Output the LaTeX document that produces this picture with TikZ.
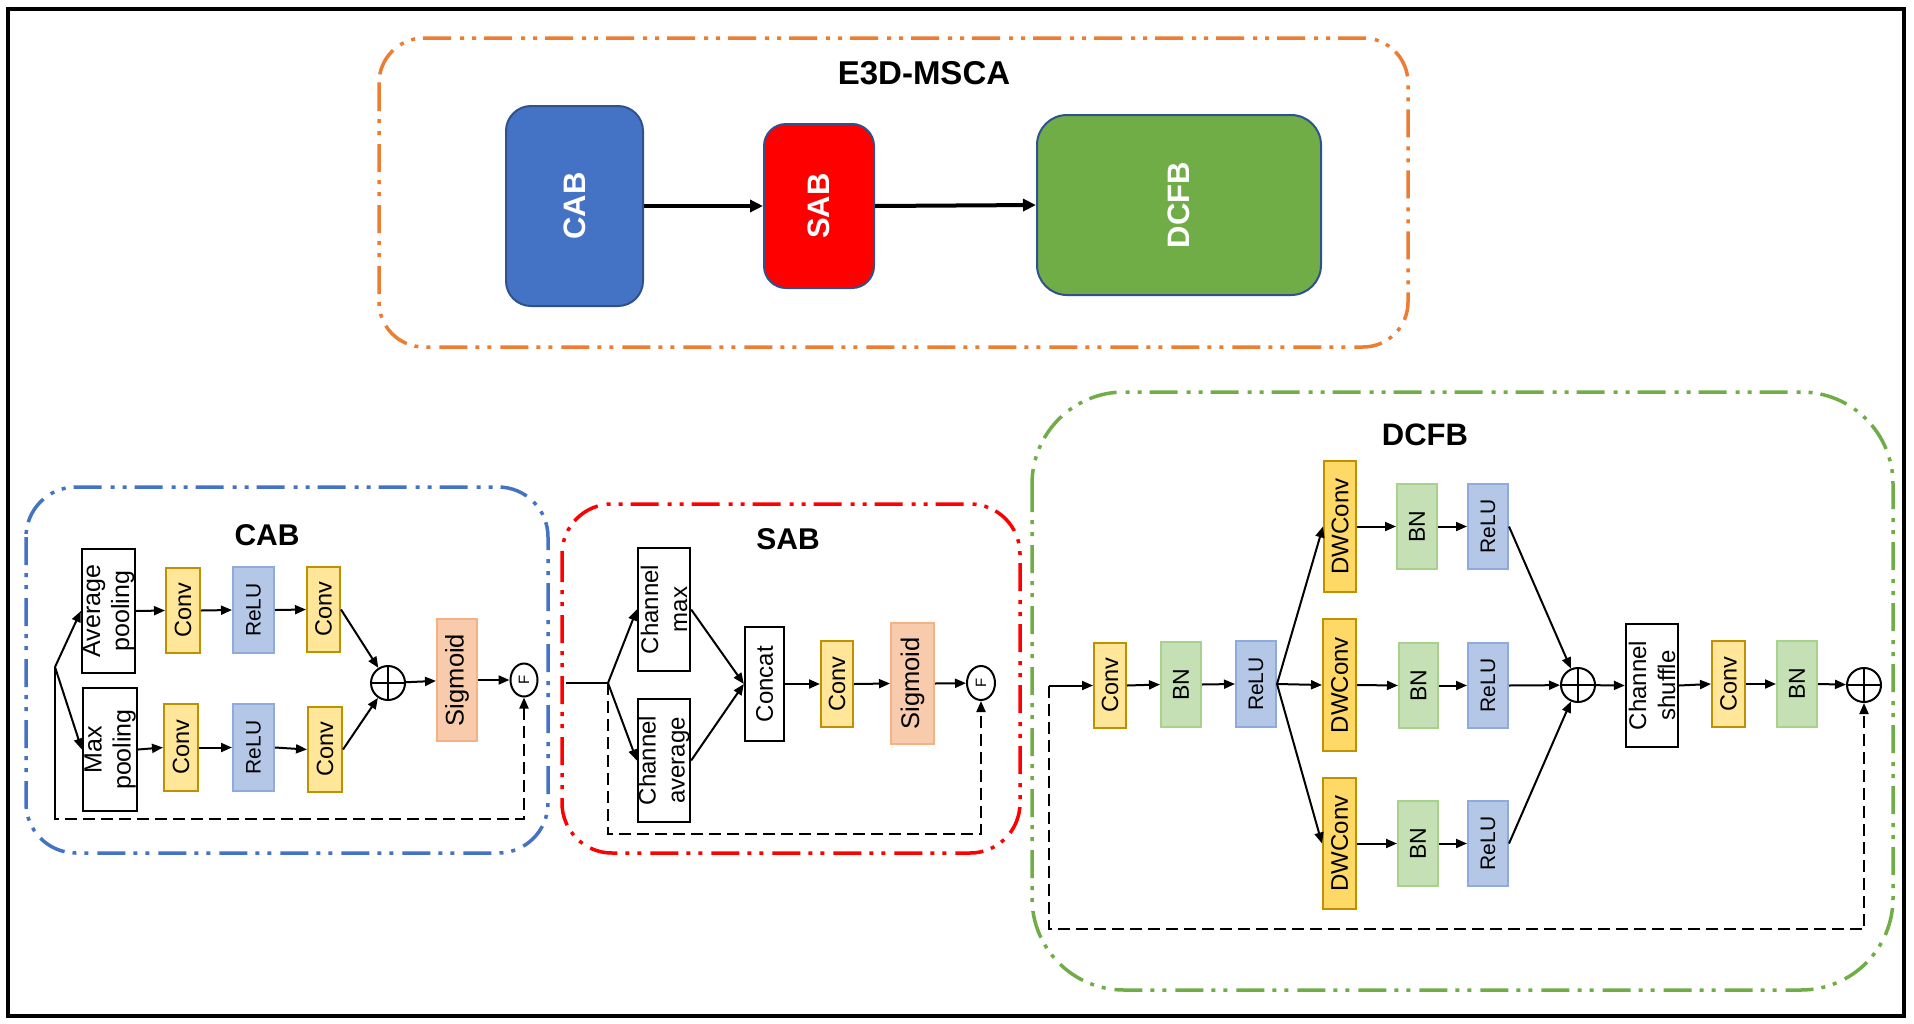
\documentclass[tikz,border=0pt]{standalone}
\usepackage{fontspec}
\setmainfont{Liberation Sans}
\usetikzlibrary{arrows.meta,shapes.geometric,calc}
\definecolor{cabblue}{HTML}{4472C4}
\definecolor{sabred}{HTML}{FF0000}
\definecolor{dcgreen}{HTML}{70AD47}
\definecolor{orng}{HTML}{ED7D31}
\definecolor{bdark}{HTML}{2F528F}
\definecolor{convf}{HTML}{FFE699}
\definecolor{convd}{HTML}{BF9000}
\definecolor{dwf}{HTML}{FFD966}
\definecolor{bnf}{HTML}{C5E0B4}
\definecolor{bnd}{HTML}{A9D18E}
\definecolor{reluf}{HTML}{B4C7E7}
\definecolor{relud}{HTML}{8FAADC}
\definecolor{sigf}{HTML}{F8CBAD}
\definecolor{sigd}{HTML}{F4B183}
\newcommand\myfs[1]{\fontsize{#1}{29}\selectfont}
\newcommand\blk[7]{%
  \node[#1, minimum width=#4, minimum height=#5] (#2) at (#3) {};
  \node[lbl, font=\myfs{#6}] (#2t) at (#2.center) {#7};}
\tikzset{
  grp/.style={line width=3.5pt, dash pattern=on 28pt off 8pt on 4pt off 8pt on 4pt off 9pt},
  arr/.style={line width=2pt, -{Triangle[length=11pt,width=9pt]}},
  bigarr/.style={line width=4pt, -{Triangle[length=13pt,width=12pt]}},
  dsh/.style={line width=2pt, dash pattern=on 12pt off 6pt},
  bx/.style={rectangle, draw, line width=2pt, inner sep=0pt},
  wbx/.style={bx, draw=black, line width=2.3pt, fill=white},
  conv/.style={bx, draw=convd, fill=convf},
  dw/.style={bx, draw=convd, fill=dwf},
  bn/.style={bx, draw=bnd, fill=bnf},
  relu/.style={bx, draw=relud, fill=reluf},
  sig/.style={bx, draw=sigd, fill=sigf},
  lbl/.style={rotate=90, inner sep=0pt, align=center},
  oplus/.style={circle, draw, line width=2pt, minimum size=34pt, inner sep=0pt,
    path picture={\draw[line width=2pt] (path picture bounding box.north) -- (path picture bounding box.south)
      (path picture bounding box.west) -- (path picture bounding box.east);}},
  fnode/.style={ellipse, draw, line width=2pt, minimum width=27pt, minimum height=33pt, inner sep=0pt, font=\myfs{15}},
  ttl/.style={font=\bfseries\myfs{30}, inner sep=0pt},
  big/.style={rectangle, draw=bdark, line width=2pt, inner sep=0pt},
  wlbl/.style={rotate=90, inner sep=0pt, text=white, font=\bfseries\myfs{31}}
}
\begin{document}
\begin{tikzpicture}[x=1pt,y=-1pt]
\useasboundingbox (0,0) rectangle (1914,1023);
\fill[white] (0,0) rectangle (1914,1023);
\draw[line width=4pt] (8,9) rectangle (1904,1016);

% ---------- top: E3D-MSCA ----------
\draw[grp, draw=orng, rounded corners=45pt] (379,38) rectangle (1408,347);
\node[ttl, font=\bfseries\myfs{33}] (ttop) at (924,73) {E3D-MSCA};
\node[big, fill=cabblue, minimum width=137pt, minimum height=200pt, rounded corners=25pt] (bcab) at (574.5,206) {};
\node[wlbl] (bcabt) at (bcab) {CAB};
\node[big, fill=sabred, minimum width=110pt, minimum height=164pt, rounded corners=22pt] (bsab) at (819,206) {};
\node[wlbl] (bsabt) at (bsab) {SAB};
\node[big, fill=dcgreen, minimum width=284pt, minimum height=180pt, rounded corners=30pt] (bdc) at (1179,205) {};
\node[wlbl] (bdct) at (bdc) {DCFB};
\draw[bigarr] (bcab.east) -- (bsab.west);
\draw[bigarr] (bsab.east) -- (bdc.west);

% ---------- CAB ----------
\draw[grp, draw=cabblue, rounded corners=50pt] (26,487) rectangle (548,853);
\node[ttl] (tcab) at (267,535) {CAB};
\blk{wbx}{avg}{108.5,611}{53pt}{124pt}{25}{Average\\pooling}
\blk{wbx}{mxp}{110,749.5}{54pt}{123pt}{25}{Max\\pooling}
\blk{conv}{ca1}{183,610.5}{34pt}{85pt}{23.5}{Conv}
\blk{relu}{ca2}{253.5,610}{41pt}{86pt}{21}{ReLU}
\blk{conv}{ca3}{323.5,609.5}{33pt}{85pt}{23.5}{Conv}
\blk{conv}{cb1}{181,747.5}{34pt}{87pt}{23.5}{Conv}
\blk{relu}{cb2}{253.5,747.5}{41pt}{87pt}{21}{ReLU}
\blk{conv}{cb3}{325,749.5}{34pt}{85pt}{23.5}{Conv}
\node[oplus] (cop) at (388,683) {};
\blk{sig}{csig}{457,680}{40pt}{122pt}{25.5}{Sigmoid}
\node[fnode] (cf) at (524,680) {\rotatebox{90}{F}};
\coordinate (csp) at (55,667);
\coordinate (cdn) at (55,819);
\draw[line width=2pt] (csp) -- (cdn);
\draw[arr] (csp) -- (avg.west);
\draw[arr] (csp) -- (mxp.west);
\draw[arr] (avg.east) -- (ca1.west);
\draw[arr] (ca1.east) -- (ca2.west);
\draw[arr] (ca2.east) -- (ca3.west);
\draw[arr] (mxp.east) -- (cb1.west);
\draw[arr] (cb1.east) -- (cb2.west);
\draw[arr] (cb2.east) -- (cb3.west);
\draw[arr] (ca3.east) -- (cop);
\draw[arr] (cb3.east) -- (cop);
\draw[arr] (cop) -- (csig);
\draw[arr] (csig) -- (cf);
\draw[dsh, -{Triangle[length=11pt,width=9pt]}] (csp) -- (cdn) -| (cf.south);

% ---------- SAB ----------
\draw[grp, draw=sabred, rounded corners=50pt] (562,504) rectangle (1020,853);
\node[ttl] (tsab) at (788,539) {SAB};
\coordinate (sin) at (566,683);
\coordinate (ssp) at (608,683);
\coordinate (sdn) at (608,834);
\blk{wbx}{chm}{664,609.5}{52pt}{123pt}{24}{Channel\\max}
\blk{wbx}{cha}{664,760.5}{52pt}{123pt}{24}{Channel\\average}
\blk{wbx}{cat}{764.5,684}{39pt}{114pt}{24}{Concat}
\blk{conv}{scv}{837,684}{32pt}{86pt}{23.5}{Conv}
\blk{sig}{ssg}{912.5,683.5}{43pt}{121pt}{25.5}{Sigmoid}
\node[fnode, minimum width=28pt, minimum height=34pt] (sf) at (981,683) {\rotatebox{90}{F}};
\draw[line width=2pt] (sin) -- (ssp);
\draw[arr] (ssp) -- (chm.west);
\draw[arr] (ssp) -- (cha.west);
\draw[arr] (chm.east) -- (cat.west);
\draw[arr] (cha.east) -- (cat.west);
\draw[arr] (cat.east) -- (scv.west);
\draw[arr] (scv.east) -- (ssg.west);
\draw[arr] (ssg.east) -- (sf);
\draw[dsh, -{Triangle[length=11pt,width=9pt]}] (ssp) -- (sdn) -| (sf.south);

% ---------- DCFB ----------
\draw[grp, draw=dcgreen, rounded corners=92pt] (1032,392) rectangle (1893,990);
\node[ttl, font=\bfseries\myfs{31}] (tdc) at (1425,435) {DCFB};
\coordinate (din) at (1049,685.5);
\coordinate (ddn) at (1049,929);
\blk{conv}{d1}{1110,685.5}{32pt}{85pt}{23.5}{Conv}
\blk{bn}{d2}{1181,684.5}{40pt}{85pt}{23}{BN}
\blk{relu}{d3}{1256,684}{40pt}{86pt}{21}{ReLU}
\blk{dw}{u1}{1340,526.5}{32pt}{131pt}{24}{DWConv}
\blk{bn}{u2}{1417,526.5}{40pt}{85pt}{23}{BN}
\blk{relu}{u3}{1488,526.5}{40pt}{85pt}{21}{ReLU}
\blk{dw}{m1}{1339.5,685}{33pt}{132pt}{24}{DWConv}
\blk{bn}{m2}{1418.5,685.5}{39pt}{85pt}{23}{BN}
\blk{relu}{m3}{1488,685.5}{40pt}{85pt}{21}{ReLU}
\blk{dw}{l1}{1339.5,843.5}{33pt}{131pt}{24}{DWConv}
\blk{bn}{l2}{1418,843.5}{40pt}{85pt}{23}{BN}
\blk{relu}{l3}{1488,843.5}{40pt}{85pt}{21}{ReLU}
\node[oplus] (dop1) at (1578,685) {};
\blk{wbx}{shf}{1652,685.5}{52pt}{123pt}{24}{Channel\\shuffle}
\blk{conv}{d4}{1728.5,684}{33pt}{86pt}{23.5}{Conv}
\blk{bn}{d5}{1797,684}{40pt}{86pt}{23}{BN}
\node[oplus] (dop2) at (1864,685) {};
\draw[arr] (din) -- (d1.west);
\draw[arr] (d1.east) -- (d2.west);
\draw[arr] (d2.east) -- (d3.west);
\draw[arr] (d3.east) -- (u1.west);
\draw[arr] (d3.east) -- (m1.west);
\draw[arr] (d3.east) -- (l1.west);
\draw[arr] (u1.east) -- (u2.west);
\draw[arr] (u2.east) -- (u3.west);
\draw[arr] (m1.east) -- (m2.west);
\draw[arr] (m2.east) -- (m3.west);
\draw[arr] (l1.east) -- (l2.west);
\draw[arr] (l2.east) -- (l3.west);
\draw[arr] (u3.east) -- (dop1);
\draw[arr] (m3.east) -- (dop1);
\draw[arr] (l3.east) -- (dop1);
\draw[arr] (dop1) -- (shf.west);
\draw[arr] (shf.east) -- (d4.west);
\draw[arr] (d4.east) -- (d5.west);
\draw[arr] (d5.east) -- (dop2);
\draw[dsh, -{Triangle[length=11pt,width=9pt]}] (din) -- (ddn) -| (dop2.south);
\end{tikzpicture}
\end{document}
